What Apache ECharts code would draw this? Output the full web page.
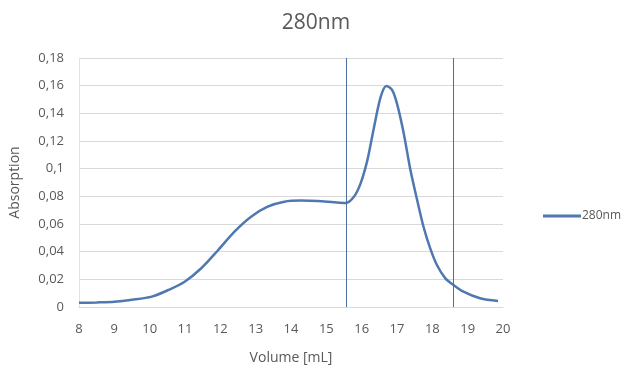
<!DOCTYPE html>
<html>
<head>
<meta charset="utf-8">
<script src="https://cdn.jsdelivr.net/npm/echarts@6/dist/echarts.min.js"></script>
<style>html,body{margin:0;padding:0;background:#fff;}#c{width:632px;height:373px;}</style>
</head>
<body>
<div id="c"></div>
<script>
const xValues = [8.0, 8.5, 9.0, 9.5, 10.06, 10.53, 10.99, 11.46, 11.94, 12.40, 12.87, 13.34, 13.81, 14.28, 14.75, 15.22, 15.55, 15.78, 15.97, 16.16, 16.35, 16.54, 16.70, 16.86, 17.0, 17.19, 17.38, 17.57, 17.75, 17.94, 18.13, 18.37, 18.6, 18.88, 19.35, 19.86];
const yValues = [0.003, 0.0033, 0.0038, 0.0052, 0.0075, 0.0123, 0.0183, 0.028, 0.0412, 0.0545, 0.0653, 0.0725, 0.0761, 0.0769, 0.0766, 0.0757, 0.0752, 0.0797, 0.0894, 0.106, 0.130, 0.152, 0.1598, 0.157, 0.147, 0.1256, 0.099, 0.0774, 0.058, 0.0424, 0.0304, 0.0207, 0.0159, 0.0111, 0.0063, 0.0043];
const markerX = [15.55, 18.59];
const seriesName = '280nm';
const titleText = '280nm';
const xName = 'Volume [mL]';
const yName = 'Absorption';

const chart = echarts.init(document.getElementById('c'), null, {renderer: 'canvas'});
const font = '"Open Sans", "Noto Sans", sans-serif';
chart.setOption({
  animation: false,
  backgroundColor: '#ffffff',
  title: {
    text: titleText, left: 'center', top: 8,
    textStyle: {fontFamily: font, fontSize: 21, fontWeight: 'normal', color: '#595959'}
  },
  legend: {
    data: [seriesName], orient: 'vertical', left: 538, top: 205,
    itemWidth: 38, itemHeight: 3, itemGap: 4,
    icon: 'rect',
    textStyle: {fontFamily: font, fontSize: 12, color: '#595959', padding: [0, 0, 0, -4]}
  },
  grid: {left: 77, right: 129, top: 58, bottom: 66, containLabel: false},
  xAxis: {
    type: 'value', min: 8, max: 20, interval: 1,
    name: xName, nameLocation: 'middle', nameGap: 44,
    nameTextStyle: {fontFamily: font, fontSize: 14, color: '#595959'},
    axisLine: {show: true, lineStyle: {color: '#d9d9d9', width: 1}},
    axisTick: {show: false},
    splitLine: {show: false},
    axisLabel: {fontFamily: font, fontSize: 13, color: '#595959', margin: 16}
  },
  yAxis: {
    type: 'value', min: 0, max: 0.18, interval: 0.02,
    name: yName, nameLocation: 'middle', nameGap: 57,
    nameTextStyle: {fontFamily: font, fontSize: 14, color: '#595959'},
    axisLine: {show: true, lineStyle: {color: '#e3e3e3', width: 1}},
    axisTick: {show: false},
    splitLine: {show: true, lineStyle: {color: '#d9d9d9', width: 1}},
    axisLabel: {
      fontFamily: font, fontSize: 13, color: '#595959', margin: 15,
      formatter: function (v) { return parseFloat(v.toFixed(2)).toString().replace('.', ','); }
    }
  },
  series: [{
    name: seriesName, type: 'line', smooth: 0.3, showSymbol: false, symbol: 'none',
    data: xValues.map((x, i) => [x, yValues[i]]),
    lineStyle: {color: '#5078b0', width: 2.5},
    itemStyle: {color: '#5078b0'},
    markLine: {
      silent: true, symbol: ['none', 'none'], label: {show: false},
      lineStyle: {color: '#4d6f9e', width: 1, type: 'solid'},
      data: markerX.map(v => ({xAxis: v}))
    }
  }]
});
</script>
</body>
</html>
